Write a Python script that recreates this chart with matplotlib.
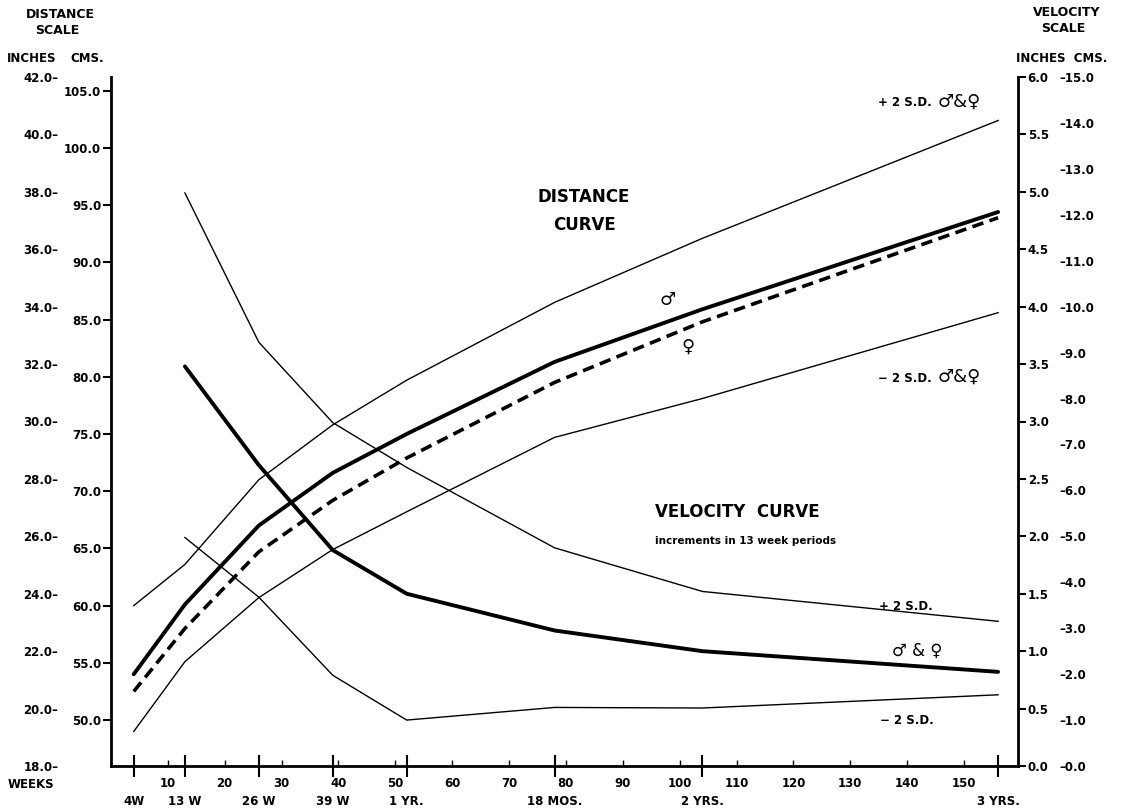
import matplotlib
matplotlib.use("Agg")
import matplotlib.pyplot as plt

plt.rcParams['font.family'] = ['DejaVu Sans']
plt.rcParams['font.weight'] = 'bold'

# ---------------- data ----------------
weeks = [4, 13, 26, 39, 52, 78, 104, 156]
dist_plus2sd = [60.0, 63.6, 71.0, 75.8, 79.7, 86.5, 92.1, 102.4]
dist_male = [54.0, 60.1, 67.0, 71.6, 75.0, 81.3, 85.9, 94.4]
dist_female = [52.5, 58.0, 64.7, 69.2, 72.9, 79.5, 84.8, 93.9]
dist_minus2sd = [49.0, 55.1, 60.7, 64.9, 68.2, 74.7, 78.1, 85.6]

vel_weeks = [13, 26, 39, 52, 78, 104, 156]
vel_mean = [3.48, 2.62, 1.88, 1.50, 1.18, 1.00, 0.82]
vel_plus2sd = [4.99, 3.69, 2.99, 2.60, 1.90, 1.52, 1.26]
vel_minus2sd = [1.99, 1.47, 0.79, 0.40, 0.51, 0.505, 0.62]

milestone_weeks = [4, 13, 26, 39, 52, 78, 104, 156]
milestone_labels = ["4W", "13 W", "26 W", "39 W", "1 YR.", "18 MOS.", "2 YRS.", "3 YRS."]
week_ticks = list(range(10, 151, 10))
week_labels = [str(w) for w in week_ticks]

dist_cm_ticks = [50.0, 55.0, 60.0, 65.0, 70.0, 75.0, 80.0, 85.0, 90.0, 95.0, 100.0, 105.0]
dist_in_ticks = [18.0, 20.0, 22.0, 24.0, 26.0, 28.0, 30.0, 32.0, 34.0, 36.0, 38.0, 40.0, 42.0]
vel_in_ticks = [0.0, 0.5, 1.0, 1.5, 2.0, 2.5, 3.0, 3.5, 4.0, 4.5, 5.0, 5.5, 6.0]
vel_cm_ticks = [0.0, 1.0, 2.0, 3.0, 4.0, 5.0, 6.0, 7.0, 8.0, 9.0, 10.0, 11.0, 12.0, 13.0, 14.0, 15.0]

W, H = 1124, 808
fig = plt.figure(figsize=(W / 100, H / 100), dpi=100)
L, R, T, B = 111, 1018, 77, 766
ax = fig.add_axes([L / W, 1 - B / H, (R - L) / W, (B - T) / H])
ax.set_xlim(0, 159.5)
ax.set_ylim(45.98, 106.2)

def fx(x, y):
    return x / W, 1 - y / H

# distance curves
ax.plot(weeks, dist_plus2sd, color='black', lw=1.0)
ax.plot(weeks, dist_male, color='black', lw=2.8, solid_capstyle='round')
ax.plot(weeks, dist_female, color='black', lw=2.6, ls=(0, (3.2, 1.8)))
ax.plot(weeks, dist_minus2sd, color='black', lw=1.0)

# velocity axis
vax = ax.twinx()
vax.set_ylim(0, 6.0)
vax.plot(vel_weeks, vel_plus2sd, color='black', lw=1.0)
vax.plot(vel_weeks, vel_mean, color='black', lw=2.8, solid_capstyle='round')
vax.plot(vel_weeks, vel_minus2sd, color='black', lw=1.0)

for a in (ax, vax):
    a.spines['top'].set_visible(False)
ax.spines['right'].set_visible(False)
vax.spines['left'].set_visible(False)
vax.spines['bottom'].set_visible(False)
ax.spines['left'].set_linewidth(2.0)
ax.spines['bottom'].set_linewidth(2.0)
vax.spines['right'].set_linewidth(2.0)

fs_tick = 8.5
# left cm ticks
ax.set_yticks(dist_cm_ticks)
ax.set_yticklabels([f"{v:.1f}" for v in dist_cm_ticks])
ax.tick_params(axis='y', direction='out', length=6, width=1.5, pad=1, labelsize=fs_tick)

# right velocity inches ticks
vax.set_yticks(vel_in_ticks)
vax.set_yticklabels([f"{v:.1f}" for v in vel_in_ticks])
vax.tick_params(axis='y', direction='out', length=6, width=1.5, pad=1, labelsize=fs_tick)

# left inches labels (secondary scale, text only)
iax = ax.twinx()
iax.set_ylim(18.03, 41.97)
for s in iax.spines.values():
    s.set_visible(False)
iax.yaxis.tick_left()
iax.set_yticks(dist_in_ticks)
iax.set_yticklabels([f"{v:.1f}\u2013" for v in dist_in_ticks])
iax.tick_params(axis='y', length=0, pad=38, labelsize=fs_tick)

# right velocity cms labels (text only)
cax = ax.twinx()
cax.set_ylim(0, 15.0)
for s in cax.spines.values():
    s.set_visible(False)
cax.set_yticks(vel_cm_ticks)
cax.set_yticklabels(["\u2013" + f"{v:.1f}" for v in vel_cm_ticks])
cax.tick_params(axis='y', length=0, pad=30, labelsize=fs_tick)

# x ticks (set after twins so they are not reset)
ax.set_xticks(milestone_weeks)
ax.set_xticklabels(milestone_labels)
ax.set_xticks(week_ticks, minor=True)
ax.set_xticklabels(week_labels, minor=True)
ax.tick_params(axis='x', which='major', direction='inout', length=16, width=1.5, pad=13, labelsize=fs_tick)
ax.tick_params(axis='x', which='minor', direction='in', length=4, width=1.0, pad=8, labelsize=fs_tick)

# headers
fig.text(*fx(60, 15), "DISTANCE", ha='center', va='center', fontsize=9)
fig.text(*fx(57, 31), "SCALE", ha='center', va='center', fontsize=9)
fig.text(*fx(7, 59), "INCHES", ha='left', va='center', fontsize=8.5)
fig.text(*fx(70, 59), "CMS.", ha='left', va='center', fontsize=8.5)
fig.text(*fx(1067, 12), "VELOCITY", ha='center', va='center', fontsize=9)
fig.text(*fx(1063, 28), "SCALE", ha='center', va='center', fontsize=9)
fig.text(*fx(1016, 59), "INCHES  CMS.", ha='left', va='center', fontsize=8.5)
fig.text(*fx(8, 784), "WEEKS", ha='left', va='center', fontsize=8.5)

# chart annotations
fig.text(*fx(584, 197), "DISTANCE", ha='center', va='center', fontsize=12)
fig.text(*fx(585, 225), "CURVE", ha='center', va='center', fontsize=12)
fig.text(*fx(655, 512), "VELOCITY  CURVE", ha='left', va='center', fontsize=12)
fig.text(*fx(655, 541), "increments in 13 week periods", ha='left', va='center', fontsize=7.5)

fig.text(*fx(878, 103), "+ 2 S.D.", ha='left', va='center', fontsize=8.5)
fig.text(*fx(938, 102), "\u2642&\u2640", ha='left', va='center', fontsize=13, fontweight='normal')
fig.text(*fx(878, 378), "\u2212 2 S.D.", ha='left', va='center', fontsize=8.5)
fig.text(*fx(938, 377), "\u2642&\u2640", ha='left', va='center', fontsize=13, fontweight='normal')
fig.text(*fx(668, 300), "\u2642", ha='center', va='center', fontsize=13, fontweight='normal')
fig.text(*fx(688, 347), "\u2640", ha='center', va='center', fontsize=13, fontweight='normal')

fig.text(*fx(879, 607), "+ 2 S.D.", ha='left', va='center', fontsize=8.5)
fig.text(*fx(892, 651), "\u2642 & \u2640", ha='left', va='center', fontsize=12, fontweight='normal')
fig.text(*fx(880, 720), "\u2212 2 S.D.", ha='left', va='center', fontsize=8.5)

fig.savefig("out.png", dpi=100)
